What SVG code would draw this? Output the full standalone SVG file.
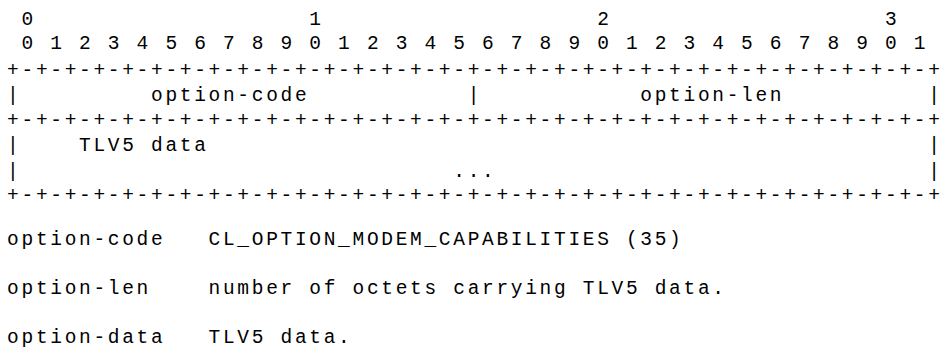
<svg xmlns="http://www.w3.org/2000/svg" width="943" height="362" viewBox="0 0 943 362">
<style>
text{font-family:"Liberation Mono","DejaVu Sans Mono",monospace;font-size:19.5px;letter-spacing:2.69px;fill:#000;white-space:pre}
</style>
<rect width="943" height="362" fill="#fff"/>
<g id="packet" xml:space="preserve">
<text x="7.1" y="25"> 0                   1                   2                   3</text>
<text x="7.1" y="49"> 0 1 2 3 4 5 6 7 8 9 0 1 2 3 4 5 6 7 8 9 0 1 2 3 4 5 6 7 8 9 0 1</text>
<text x="7.1" y="76">+-+-+-+-+-+-+-+-+-+-+-+-+-+-+-+-+-+-+-+-+-+-+-+-+-+-+-+-+-+-+-+-+</text>
<text x="7.1" y="101">|         option-code           |           option-len          |</text>
<text x="7.1" y="126">+-+-+-+-+-+-+-+-+-+-+-+-+-+-+-+-+-+-+-+-+-+-+-+-+-+-+-+-+-+-+-+-+</text>
<text x="7.1" y="151">|    TLV5 data                                                  |</text>
<text x="7.1" y="177">|                              ...                              |</text>
<text x="7.1" y="201">+-+-+-+-+-+-+-+-+-+-+-+-+-+-+-+-+-+-+-+-+-+-+-+-+-+-+-+-+-+-+-+-+</text>
</g>
<g id="legend" xml:space="preserve">
<text x="7.1" y="245">option-code   CL_OPTION_MODEM_CAPABILITIES (35)</text>
<text x="7.1" y="293.5">option-len    number of octets carrying TLV5 data.</text>
<text x="7.1" y="342.5">option-data   TLV5 data.</text>
</g>
</svg>
